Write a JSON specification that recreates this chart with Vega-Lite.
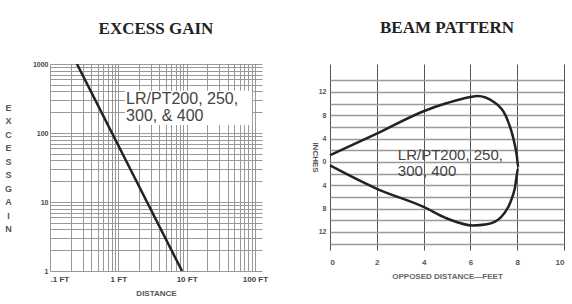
{
  "$schema": "https://vega.github.io/schema/vega-lite/v6.json",
  "background": "white",
  "padding": {"left": 4, "top": 19, "right": 2, "bottom": 2},
  "spacing": 42,
  "config": {"view": {"stroke": null}, "font": "Liberation Sans"},
  "datasets": {
    "gain": [{"distance": 0.248, "gain": 1000}, {"distance": 8.57, "gain": 1}],
    "gainBox": [{"x": 1.25, "x2": 91, "y": 131, "y2": 409}],
    "gainNote": [{"distance": 1.3, "gain": 310, "note": ["LR/PT200, 250,", "300, & 400"]}],
    "beam": [
      {"order": 1, "feet": 0, "inches": 1.15},
      {"order": 2, "feet": 2, "inches": 4.85},
      {"order": 3, "feet": 4, "inches": 8.7},
      {"order": 4, "feet": 5, "inches": 10.1},
      {"order": 5, "feet": 6, "inches": 11.15},
      {"order": 6, "feet": 6.3, "inches": 11.3},
      {"order": 7, "feet": 7, "inches": 10.3},
      {"order": 8, "feet": 7.5, "inches": 8},
      {"order": 9, "feet": 7.8, "inches": 4.6},
      {"order": 10, "feet": 7.98, "inches": 1.2},
      {"order": 11, "feet": 8.05, "inches": -1},
      {"order": 12, "feet": 7.9, "inches": -4.5},
      {"order": 13, "feet": 7.7, "inches": -7},
      {"order": 14, "feet": 7.3, "inches": -9.5},
      {"order": 15, "feet": 6.7, "inches": -10.7},
      {"order": 16, "feet": 6.1, "inches": -10.9},
      {"order": 17, "feet": 5, "inches": -9.7},
      {"order": 18, "feet": 4, "inches": -7.7},
      {"order": 19, "feet": 2, "inches": -4.6},
      {"order": 20, "feet": 0, "inches": -0.6}
    ],
    "beamNote": [{"feet": 2.9, "inches": 1.2, "note": ["LR/PT200, 250,", "300, 400"]}]
  },
  "hconcat": [
    {
      "width": 212,
      "height": 207,
      "title": {"text": "EXCESS GAIN", "font": "Liberation Serif", "fontSize": 17, "fontWeight": "bold", "color": "#222", "offset": 22},
      "encoding": {
        "x": {
          "field": "distance", "type": "quantitative",
          "scale": {"type": "log", "domain": [0.1, 127], "nice": false},
          "axis": {
            "title": "DISTANCE", "titleFontSize": 8, "titleFontWeight": "bold", "titleColor": "#555", "titlePadding": 6,
            "values": [0.1,0.2,0.3,0.4,0.5,0.6,0.7,0.8,0.9,1,2,3,4,5,6,7,8,9,10,20,30,40,50,60,70,80,90,100],
            "labelExpr": "datum.value==0.1?'.1 FT':datum.value==1?'1 FT':datum.value==10?'10 FT':datum.value==100?'100 FT':''",
            "labelFontSize": 8, "labelFontWeight": "bold", "labelColor": "#444", "labelPadding": 4,
            "ticks": false, "domain": false, "grid": true, "gridColor": "#999", "gridWidth": 1, "labelOverlap": false
          }
        },
        "y": {
          "field": "gain", "type": "quantitative",
          "scale": {"type": "log", "domain": [1, 1000], "nice": false},
          "axis": {
            "title": ["E","X","C","E","S","S"," ","G","A","I","N"], "titleAngle": 0, "titleFontSize": 9, "titleFontWeight": "bold", "titleColor": "#555", "titleLineHeight": 13.5, "titleAlign": "center", "titleBaseline": "middle",
            "titleX": -42, "titleY": 43,
            "values": [1,2,3,4,5,6,7,8,9,10,20,30,40,50,60,70,80,90,100,200,300,400,500,600,700,800,900,1000],
            "labelExpr": "datum.value==1||datum.value==10||datum.value==100||datum.value==1000?datum.label:''",
            "format": "d",
            "labelFontSize": 7, "labelFontWeight": "bold", "labelColor": "#444", "labelPadding": 2,
            "ticks": false, "domain": false, "grid": true, "gridColor": "#999", "gridWidth": 1, "labelOverlap": false
          }
        }
      },
      "layer": [
        {"data": {"name": "gain"}, "mark": {"type": "line", "color": "#222", "strokeWidth": 2.5, "clip": true}},
        {"data": {"name": "gainBox"}, "mark": {"type": "rect", "color": "white"},
         "encoding": {"x": {"field": "x", "type": "quantitative"}, "x2": {"field": "x2"}, "y": {"field": "y", "type": "quantitative"}, "y2": {"field": "y2"}}},
        {"data": {"name": "gainNote"}, "mark": {"type": "text", "align": "left", "baseline": "middle", "fontSize": 16, "lineHeight": 17, "color": "#444"},
         "encoding": {"text": {"field": "note"}}}
      ]
    },
    {
      "width": 234,
      "height": 186,
      "title": {"text": "BEAM PATTERN", "font": "Liberation Serif", "fontSize": 17, "fontWeight": "bold", "color": "#222", "offset": 27},
      "encoding": {
        "x": {
          "field": "feet", "type": "quantitative",
          "scale": {"domain": [0, 10], "nice": false},
          "axis": {
            "title": "OPPOSED DISTANCE—FEET", "titleFontSize": 8, "titleFontWeight": "bold", "titleColor": "#666", "titlePadding": 6,
            "values": [0,2,4,6,8,10], "labelFontSize": 8, "labelFontWeight": "bold", "labelColor": "#555", "labelPadding": 8,
            "ticks": false, "domain": false, "grid": true, "gridColor": "#555", "gridWidth": 1
          }
        },
        "y": {
          "field": "inches", "type": "quantitative",
          "scale": {"domain": [-15.1, 16.8], "nice": false, "zero": false},
          "axis": {
            "title": "INCHES", "titleAngle": 90, "titleFontSize": 8, "titleFontWeight": "bold", "titleColor": "#555", "titlePadding": 8,
            "values": [-14,-12,-10,-8,-6,-4,-2,0,2,4,6,8,10,12,14],
            "labelExpr": "abs(datum.value)%4==0 && abs(datum.value)<=12 ? ''+abs(datum.value) : ''",
            "labelFontSize": 7, "labelFontWeight": "bold", "labelColor": "#555", "labelPadding": 4,
            "ticks": false, "domain": false, "grid": true, "gridColor": "#999", "gridWidth": 1.5, "labelOverlap": false
          }
        }
      },
      "layer": [
        {"data": {"name": "beam"}, "mark": {"type": "line", "color": "#222", "strokeWidth": 2.5, "interpolate": "monotone"},
         "encoding": {"order": {"field": "order", "type": "quantitative"}}},
        {"data": {"name": "beamNote"}, "mark": {"type": "text", "align": "left", "baseline": "middle", "fontSize": 15, "lineHeight": 16, "color": "#444"},
         "encoding": {"text": {"field": "note"}}}
      ]
    }
  ]
}
